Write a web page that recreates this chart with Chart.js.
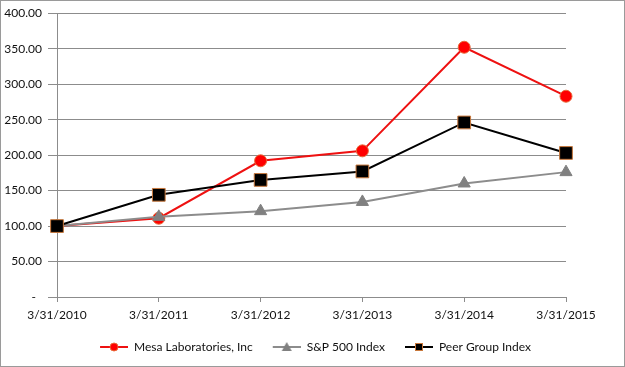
<!DOCTYPE html>
<html>
<head>
<meta charset="utf-8">
<script src="https://cdn.jsdelivr.net/npm/chart.js@4"></script>
<style>
  html, body { margin: 0; padding: 0; background: #fff; }
  #wrap { width: 625px; height: 367px; }
</style>
</head>
<body>
<div id="wrap"><canvas id="chart" width="625" height="367"></canvas></div>
<script>
// Data
const dates = ['3/31/2010', '3/31/2011', '3/31/2012', '3/31/2013', '3/31/2014', '3/31/2015'];
const mesaValues = [100, 111, 192, 206, 352, 283];
const spValues = [100, 113, 121, 134, 160, 176];
const peerValues = [100, 144, 165, 177, 246, 203];
const seriesNames = ['Mesa Laboratories, Inc', 'S&P 500 Index', 'Peer Group Index'];

const FONT = { family: 'Lato, "Open Sans", sans-serif', size: 12 };
const GRID = '#8c8c8c';
const TEXT = '#111';

// Small line+marker picture for the legend (blank space on the left acts as item gap)
function legendIcon(color, drawMarker) {
  const c = document.createElement('canvas');
  c.width = 34; c.height = 12;
  const g = c.getContext('2d');
  g.strokeStyle = color;
  g.lineWidth = 2;
  g.beginPath(); g.moveTo(6, 6); g.lineTo(34, 6); g.stroke();
  drawMarker(g);
  return c;
}

const icons = [
  legendIcon('#ee1111', g => {
    g.fillStyle = '#ff0000'; g.strokeStyle = '#e86a3a'; g.lineWidth = 1;
    g.beginPath(); g.arc(20, 6, 4, 0, Math.PI * 2); g.fill(); g.stroke();
  }),
  legendIcon('#8c8c8c', g => {
    g.fillStyle = '#808080';
    g.beginPath(); g.moveTo(20, 1); g.lineTo(25, 10); g.lineTo(15, 10); g.closePath(); g.fill();
  }),
  legendIcon('#000000', g => {
    g.fillStyle = '#000'; g.strokeStyle = '#c8783c'; g.lineWidth = 1;
    g.fillRect(16, 2, 8, 8); g.strokeRect(16.5, 2.5, 7, 7);
  })
];

// Background + outer frame
const framePlugin = {
  id: 'frame',
  beforeDraw(chart) {
    const ctx = chart.ctx;
    ctx.save();
    ctx.fillStyle = '#fff';
    ctx.fillRect(0, 0, chart.width, chart.height);
    ctx.strokeStyle = '#9a9a9a';
    ctx.lineWidth = 1;
    ctx.strokeRect(0.5, 0.5, chart.width - 1, chart.height - 1);
    ctx.restore();
  }
};

new Chart(document.getElementById('chart'), {
  type: 'line',
  data: {
    labels: dates,
    datasets: [
      {
        label: seriesNames[0],
        data: mesaValues,
        borderColor: '#ee1111',
        borderWidth: 2,
        pointStyle: 'circle',
        pointRadius: 6,
        pointBackgroundColor: '#ff0000',
        pointBorderColor: '#e86a3a',
        pointBorderWidth: 1,
        order: 3
      },
      {
        label: seriesNames[1],
        data: spValues,
        borderColor: '#8c8c8c',
        borderWidth: 2,
        pointStyle: 'triangle',
        pointRadius: 7,
        pointBackgroundColor: '#808080',
        pointBorderColor: '#808080',
        pointBorderWidth: 1,
        order: 2
      },
      {
        label: seriesNames[2],
        data: peerValues,
        borderColor: '#000000',
        borderWidth: 2,
        pointStyle: 'rect',
        pointRadius: 9,
        pointBackgroundColor: '#000000',
        pointBorderColor: '#c8783c',
        pointBorderWidth: 1,
        order: 1
      }
    ]
  },
  options: {
    responsive: false,
    animation: false,
    tension: 0,
    layout: { padding: { left: 0, right: 0, top: 5, bottom: 4 } },
    plugins: {
      tooltip: { enabled: false },
      legend: {
        position: 'bottom',
        labels: {
          font: FONT,
          color: TEXT,
          usePointStyle: true,
          pointStyleWidth: 34,
          padding: 14,
          generateLabels: chart => chart.data.datasets.map((ds, i) => ({
            text: ds.label,
            pointStyle: icons[i],
            fillStyle: ds.borderColor,
            strokeStyle: ds.borderColor,
            lineWidth: 0,
            fontColor: TEXT,
            hidden: false,
            datasetIndex: i
          }))
        }
      }
    },
    scales: {
      x: {
        offset: false,
        grid: { drawOnChartArea: false, drawTicks: true, tickLength: 5, color: GRID },
        border: { color: GRID, width: 1 },
        ticks: { font: FONT, color: TEXT, padding: 6, maxRotation: 0, autoSkip: false },
        afterFit: s => { s.height = 30; }
      },
      y: {
        min: 0,
        max: 400,
        grid: { drawTicks: true, tickLength: 9, color: GRID },
        border: { color: GRID, width: 1 },
        ticks: {
          stepSize: 50,
          font: FONT,
          color: TEXT,
          padding: 6,
          callback: v => v === 0 ? '-  ' : v.toFixed(2)
        },
        afterFit: s => { s.width = 57; }
      },
      // empty spacer on the right so the legend stays centred on the whole picture
      yRight: {
        position: 'right',
        display: true,
        grid: { display: false },
        border: { display: false },
        ticks: { display: false },
        afterFit: s => { s.width = 59; }
      }
    }
  },
  plugins: [framePlugin]
});
</script>
</body>
</html>
